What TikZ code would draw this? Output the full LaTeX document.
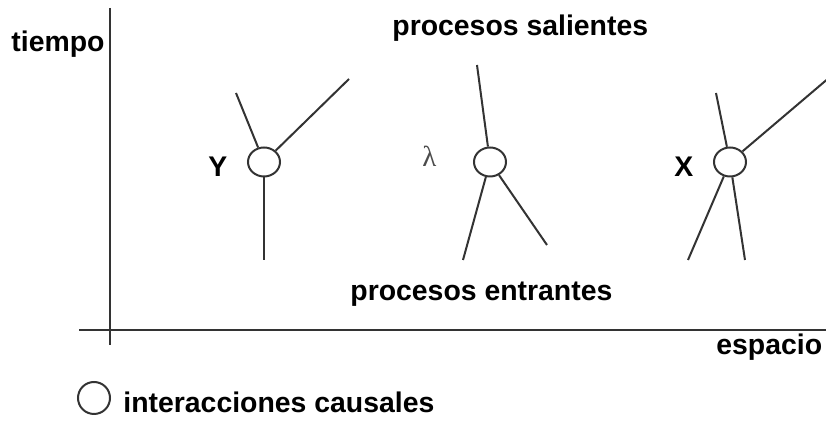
\documentclass[tikz,border=0pt]{standalone}
\usepackage{fontspec}
\setmainfont{Liberation Sans}
\newfontfamily\lamfont{Liberation Serif}
\usetikzlibrary{shapes.geometric}
\definecolor{linegray}{HTML}{333333}
\begin{document}
\begin{tikzpicture}[x=0.5pt,y=-0.5pt,
  lbl/.style={inner sep=0pt,anchor=base west,font=\fontsize{14.2}{16}\selectfont\bfseries},
  ev/.style={draw=linegray,ellipse,minimum width=16pt,minimum height=14.5pt,inner sep=0pt,line width=1pt},
  proc/.style={draw=linegray,line width=1pt},
  axis/.style={draw=linegray,line width=1.2pt}]
\useasboundingbox (0,0) rectangle (826,421);
% axes
\coordinate (vtop) at (110,8);
\coordinate (vbot) at (110,345);
\coordinate (hleft) at (79,330);
\coordinate (hright) at (826,330);
\draw[axis] (vtop) -- (vbot);
\draw[axis] (hleft) -- (hright);
% labels
\node[lbl] (tiempo) at (11,52) {tiempo};
\node[lbl] (sal) at (392,36) {procesos salientes};
\node[lbl] (ent) at (350,301) {procesos entrantes};
\node[lbl] (esp) at (716,355) {espacio};
\node[lbl] (inter) at (123,413) {interacciones causales};
\node[lbl] (ylab) at (208,177) {Y};
\node[lbl] (xlab) at (674,177) {X};
\node[inner sep=0pt,anchor=base west,font=\fontsize{14.5}{16}\selectfont\lamfont,text=black!70] (lam) at (422,167) {λ};
% events
\node[ev] (Y) at (264,162) {};
\node[ev] (L) at (490,162) {};
\node[ev] (X) at (730,162) {};
\node[draw=linegray,circle,minimum size=16pt,inner sep=0pt,line width=1pt] (leg) at (94,398) {};
% free ends
\coordinate (y1) at (236,93);
\coordinate (y2) at (349,79);
\coordinate (y3) at (264,260);
\coordinate (l1) at (477,65);
\coordinate (l2) at (463,260);
\coordinate (l3) at (547,245);
\coordinate (x1) at (716,93);
\coordinate (x2) at (830,77);
\coordinate (x3) at (688,260);
\coordinate (x4) at (745,260);
% processes
\draw[proc] (Y) -- (y1);
\draw[proc] (Y) -- (y2);
\draw[proc] (Y) -- (y3);
\draw[proc] (L) -- (l1);
\draw[proc] (L) -- (l2);
\draw[proc] (L) -- (l3);
\draw[proc] (X) -- (x1);
\draw[proc] (X) -- (x2);
\draw[proc] (X) -- (x3);
\draw[proc] (X) -- (x4);
\end{tikzpicture}
\end{document}
